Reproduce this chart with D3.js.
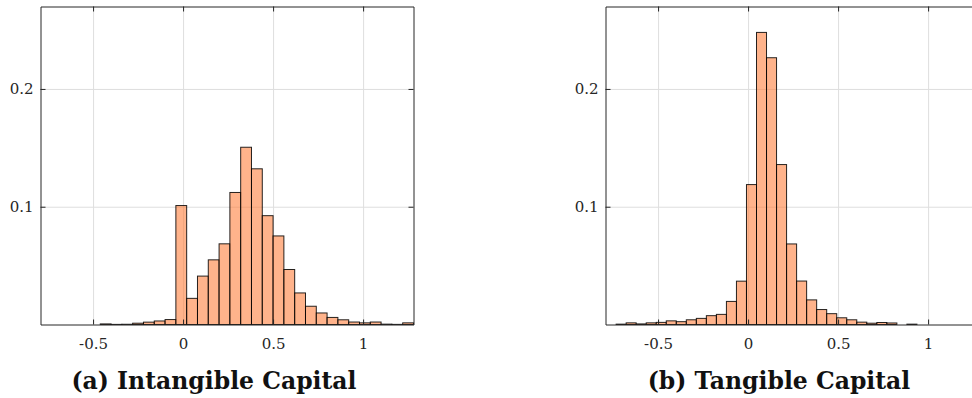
<!DOCTYPE html>
<html lang="en">
<head>
<meta charset="UTF-8"/>
<title>Intangible vs Tangible Capital histograms</title>
<script src="https://d3js.org/d3.v7.min.js"></script>
<style>
  body { margin: 0; background: #fff; }
  svg { display: block; }
</style>
</head>
<body>
<div id="chart"></div>
<script>
// Panel titles
const titles = ["(a) Intangible Capital", "(b) Tangible Capital"];

// Histogram bins: first left edge, bin width, bar heights (probability)
const intangibleStart = -0.76;
const intangibleWidth = 0.06;
const intangibleValues = [
  0, 0, 0, 0, 0, 0.0005, 0.0001, 0.0002, 0.0011, 0.002, 0.003, 0.0042,
  0.101, 0.0222, 0.0411, 0.0549, 0.0685, 0.1121, 0.1505, 0.1322, 0.0924,
  0.0752, 0.0467, 0.0268, 0.0155, 0.0098, 0.006, 0.004, 0.0021, 0.0014,
  0.0021, 0.0003, 0.0001, 0.0014
];

const tangibleStart = -0.733;
const tangibleWidth = 0.0557;
const tangibleValues = [
  0.0003, 0.0014, 0.0005, 0.0014, 0.0018, 0.0031, 0.0024, 0.004, 0.0052,
  0.0075, 0.0086, 0.0196, 0.0368, 0.1188, 0.248, 0.2265, 0.1358, 0.0684,
  0.0369, 0.0209, 0.0127, 0.0092, 0.0057, 0.004, 0.002, 0.0011, 0.0017,
  0.0013, 0, 0.0003
];

// Axis ticks
const xTicks = [-0.5, 0, 0.5, 1];
const yTicks = [0.1, 0.2];
const xDomain = [-0.792, 1.28];
const yDomain = [0, 0.27];

const tickFont = "DejaVu Serif";
const titleFont = "DejaVu Serif";

const W = 972, H = 398;
const svg = d3.select("#chart").append("svg")
  .attr("width", W)
  .attr("height", H);

const panels = [
  { title: titles[0], start: intangibleStart, width: intangibleWidth, values: intangibleValues,
    left: 40.5, right: 413.5, titleX: 214 },
  { title: titles[1], start: tangibleStart, width: tangibleWidth, values: tangibleValues,
    left: 605.5, right: 978.5, titleX: 779 }
];

const plotTop = 6.5, plotBottom = 324.5;

panels.forEach(p => {
  const x = d3.scaleLinear().domain(xDomain).range([p.left, p.right]);
  const y = d3.scaleLinear().domain(yDomain).range([plotBottom, plotTop]);

  const bins = p.values.map((v, i) => ({
    x0: p.start + i * p.width,
    x1: p.start + (i + 1) * p.width,
    v: v
  }));

  const g = svg.append("g");

  // grid
  g.append("g")
    .attr("transform", `translate(0,${plotBottom})`)
    .call(d3.axisBottom(x).tickValues(xTicks).tickSize(-(plotBottom - plotTop)).tickFormat(""))
    .call(a => a.select(".domain").remove())
    .selectAll("line").attr("stroke", "#dedede");
  g.append("g")
    .attr("transform", `translate(${p.left},0)`)
    .call(d3.axisLeft(y).tickValues(yTicks).tickSize(-(p.right - p.left)).tickFormat(""))
    .call(a => a.select(".domain").remove())
    .selectAll("line").attr("stroke", "#dedede");

  // bars
  g.append("g")
    .selectAll("rect")
    .data(bins)
    .enter()
    .append("rect")
    .attr("x", d => x(d.x0))
    .attr("y", d => y(d.v))
    .attr("width", d => x(d.x1) - x(d.x0))
    .attr("height", d => y(0) - y(d.v))
    .attr("fill", "rgb(255,128,62)")
    .attr("fill-opacity", 0.6)
    .attr("stroke", "#000")
    .attr("stroke-opacity", 0.85)
    .attr("stroke-width", 1);

  // axes (ticks inward, box on)
  const axCol = "#262626";
  const fmt = d => String(d);
  const xb = g.append("g")
    .attr("transform", `translate(0,${plotBottom})`)
    .call(d3.axisBottom(x).tickValues(xTicks).tickSizeInner(-5).tickSizeOuter(0).tickPadding(14).tickFormat(fmt));
  const yl = g.append("g")
    .attr("transform", `translate(${p.left},0)`)
    .call(d3.axisLeft(y).tickValues(yTicks).tickSizeInner(-5).tickSizeOuter(0).tickPadding(7).tickFormat(fmt));
  const xt = g.append("g")
    .attr("transform", `translate(0,${plotTop})`)
    .call(d3.axisTop(x).tickValues(xTicks).tickSizeInner(-5).tickSizeOuter(0).tickFormat(""));
  const yr = g.append("g")
    .attr("transform", `translate(${p.right},0)`)
    .call(d3.axisRight(y).tickValues(yTicks).tickSizeInner(-5).tickSizeOuter(0).tickFormat(""));
  [xb, yl, xt, yr].forEach(a => {
    a.attr("font-family", tickFont).attr("font-size", 15);
    a.select(".domain").attr("stroke", axCol).attr("stroke-width", 1);
    a.selectAll(".tick line").attr("stroke", axCol);
    a.selectAll(".tick text").attr("fill", axCol);
  });

  // panel caption
  svg.append("text")
    .attr("x", p.titleX)
    .attr("y", 389)
    .attr("text-anchor", "middle")
    .attr("font-family", titleFont)
    .attr("font-weight", "bold")
    .attr("font-size", 23.5)
    .attr("fill", "#111")
    .text(p.title);
});
</script>
</body>
</html>
